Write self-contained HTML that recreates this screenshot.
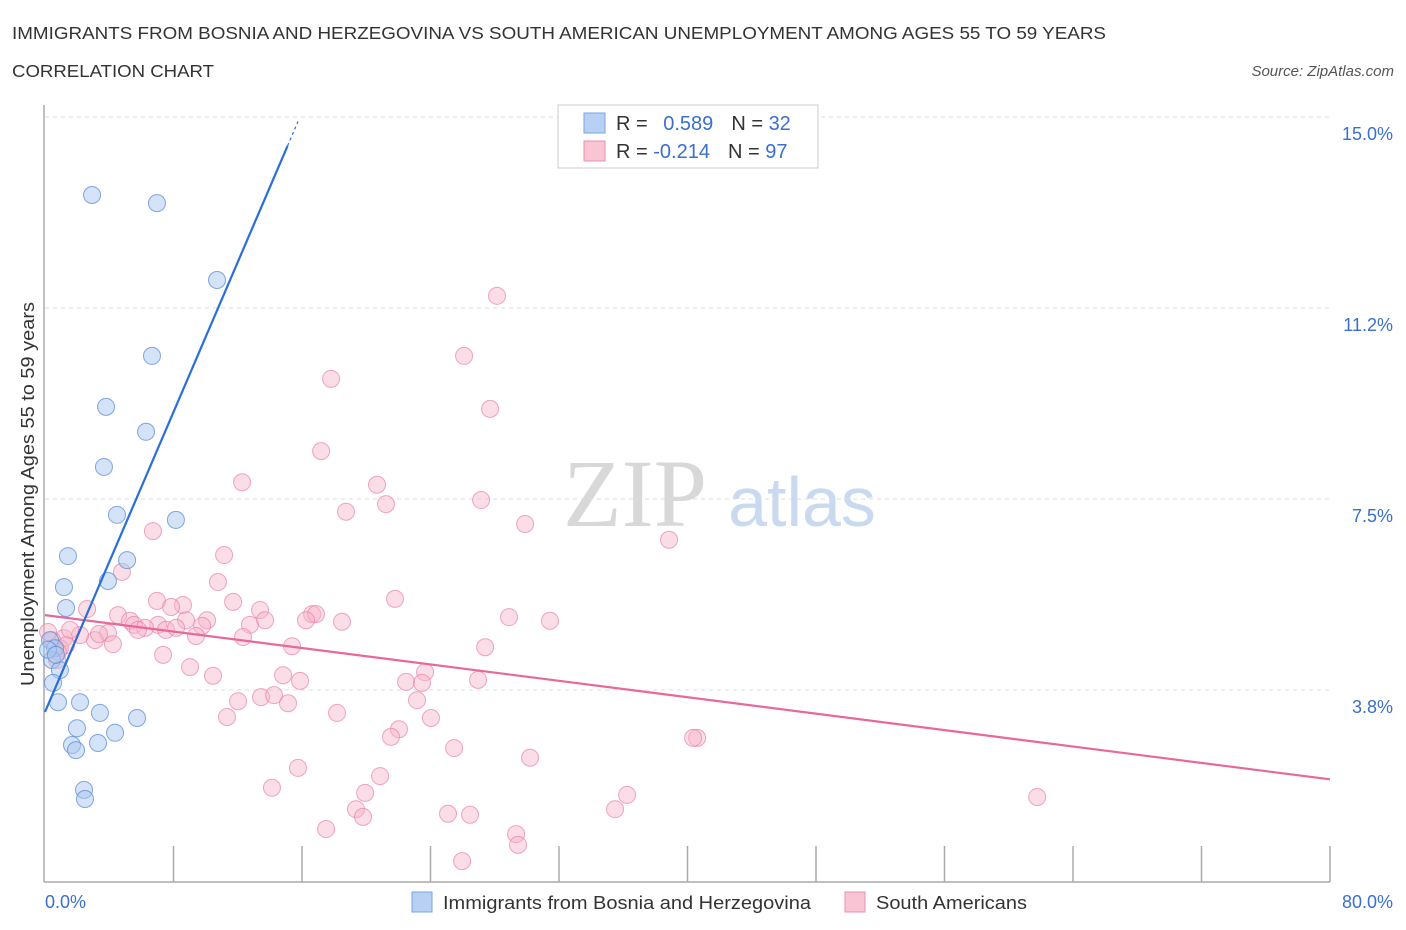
<!DOCTYPE html>
<html><head><meta charset="utf-8"><style>
body{margin:0;background:#fff;width:1406px;height:930px;overflow:hidden;font-family:"Liberation Sans",sans-serif}
svg{position:absolute;left:0;top:0}
</style></head><body>
<svg id="chart" width="1406" height="930">
<text x="12" y="39" font-size="17.5" fill="#333" textLength="1094" lengthAdjust="spacingAndGlyphs">IMMIGRANTS FROM BOSNIA AND HERZEGOVINA VS SOUTH AMERICAN UNEMPLOYMENT AMONG AGES 55 TO 59 YEARS</text>
<text x="12" y="77" font-size="17.5" fill="#333" textLength="202" lengthAdjust="spacingAndGlyphs">CORRELATION CHART</text>
<text x="1394" y="76" font-size="15" font-style="italic" fill="#555" text-anchor="end">Source: ZipAtlas.com</text>
<g>
<text x="635" y="526" font-size="96" font-family="Liberation Serif,serif" fill="#d8d8d8" text-anchor="middle">ZIP</text>
<text x="802" y="526" font-size="70" fill="#c9daf0" text-anchor="middle">atlas</text>
</g>
<g id="grid"></g>
<g id="axes"></g>
<g id="pts"></g>
<g id="lines"></g>
<text transform="translate(34,494) rotate(-90)" font-size="18.5" fill="#333" text-anchor="middle" textLength="384" lengthAdjust="spacingAndGlyphs">Unemployment Among Ages 55 to 59 years</text>
<g>
<rect x="558" y="105" width="260" height="63" fill="#fff" stroke="#ccc"/>
<rect x="584" y="113" width="21" height="20" fill="#b7d0f3" stroke="#7aa6e0"/>
<rect x="584" y="141" width="21" height="20" fill="#f9c4d4" stroke="#ec8fae"/>
<text x="616" y="130" font-size="20" fill="#333">R = <tspan fill="#3a6fd0" dx="10">0.589</tspan><tspan dx="18" fill="#333">N = </tspan><tspan fill="#3a6fd0">32</tspan></text>
<text x="616" y="158" font-size="20" fill="#333">R = <tspan fill="#3a6fd0">-0.214</tspan><tspan dx="18" fill="#333">N = </tspan><tspan fill="#3a6fd0">97</tspan></text>
</g>
<g>
<rect x="412" y="892" width="20" height="20" fill="#b7d0f3" stroke="#7aa6e0"/>
<text x="443" y="909" font-size="18.5" fill="#333" textLength="368" lengthAdjust="spacingAndGlyphs">Immigrants from Bosnia and Herzegovina</text>
<rect x="845" y="892" width="20" height="20" fill="#f9c4d4" stroke="#ec8fae"/>
<text x="876" y="909" font-size="18.5" fill="#333" textLength="151" lengthAdjust="spacingAndGlyphs">South Americans</text>
</g>
</svg>
<script>
const yTicks=[3.75,7.5,11.25,15];
const yTickLabels=["3.8%","7.5%","11.2%","15.0%"];
const xTickLabels=["0.0%","80.0%"];
const blueX=[2.93,6.97,10.71,6.66,3.80,6.29,3.67,4.48,8.15,1.43,5.11,1.18,3.92,1.31,0.31,0.62,0.44,0.93,0.50,0.81,2.18,3.42,5.73,1.99,4.36,1.68,1.93,3.30,2.43,2.49,0.19,0.68];
const blueY=[13.47,13.31,11.80,10.31,9.31,8.82,8.13,7.19,7.09,6.38,6.30,5.77,5.89,5.36,4.73,4.57,4.34,4.14,3.89,3.51,3.51,3.30,3.20,3.00,2.91,2.67,2.57,2.71,1.79,1.61,4.54,4.44];
const pinkX=[28.14,26.09,17.81,27.71,17.19,12.27,20.67,27.15,21.23,18.74,29.89,6.72,38.85,11.15,4.79,10.77,21.79,11.71,6.97,2.62,8.59,7.85,13.39,16.63,16.87,4.55,28.89,31.44,18.49,10.09,13.70,8.78,5.29,7.04,5.54,6.23,9.78,7.53,8.16,12.76,16.25,5.79,3.92,4.23,3.11,3.36,2.18,1.18,1.56,9.40,12.33,15.38,27.40,7.35,9.03,23.66,14.82,10.46,26.96,15.88,22.48,23.47,13.45,12.02,15.13,23.16,14.26,18.18,24.03,11.33,22.04,21.54,40.60,40.35,25.47,30.20,15.75,20.86,14.13,19.93,36.24,61.77,19.36,35.49,19.80,25.09,26.46,17.50,29.33,29.45,25.97,0.93,0.44,0.75,1.31,0.19,0.81];
const pinkY=[11.49,10.31,9.86,9.27,8.44,7.83,7.78,7.48,7.40,7.25,7.01,6.87,6.70,6.40,6.07,5.87,5.54,5.48,5.50,5.34,5.42,5.38,5.32,5.24,5.24,5.22,5.18,5.11,5.09,5.12,5.12,5.12,5.11,5.03,5.03,4.97,5.01,4.93,4.97,5.03,5.12,4.93,4.87,4.65,4.73,4.85,4.83,4.77,4.93,4.81,4.79,4.61,4.59,4.44,4.20,4.10,4.04,4.03,3.95,3.93,3.91,3.89,3.61,3.53,3.49,3.55,3.65,3.30,3.20,3.22,2.98,2.83,2.81,2.81,2.61,2.42,2.22,2.06,1.83,1.73,1.69,1.65,1.41,1.41,1.26,1.32,1.30,1.02,0.92,0.71,0.39,4.57,4.73,4.34,4.63,4.89,4.50];
const blueLine=[3.32,0.736,15.1,15.75];
const pinkLine=[5.22,-0.0403,0,80];
const NS='http://www.w3.org/2000/svg';
const X=v=>45+v*1285/80, Y=v=>881-v*50.93;
function mk(tag,attrs,parent){const e=document.createElementNS(NS,tag);for(const k in attrs)e.setAttribute(k,attrs[k]);document.getElementById(parent).appendChild(e);return e;}
yTicks.forEach((t,i)=>{
  const g=mk('line',{x1:45,x2:1330,y1:Y(t),y2:Y(t),stroke:'#ddd','stroke-dasharray':'4,4'},'grid');
  
  
  const l=mk('text',{x:1393,y:Y(t)+23,'font-size':18,fill:'#3a6fd0','text-anchor':'end'},'axes');
  l.textContent=yTickLabels[i];
  
  
});
const ya=mk('line',{x1:44,x2:44,y1:105,y2:882,stroke:'#aaa','stroke-width':1.5},'axes');


const xa=mk('line',{x1:44,x2:1330,y1:882,y2:882,stroke:'#aaa','stroke-width':1.5},'axes');


for(let i=1;i<=10;i++){
  const t=mk('line',{x1:X(i*8),x2:X(i*8),y1:846,y2:882,stroke:'#aaa','stroke-width':1.5},'axes');
  
  
}
const xl0=mk('text',{x:45,y:908,'font-size':18,fill:'#3a6fd0'},'axes');xl0.textContent=xTickLabels[0];


const xl1=mk('text',{x:1393,y:908,'font-size':18,fill:'#3a6fd0','text-anchor':'end'},'axes');xl1.textContent=xTickLabels[1];


pinkX.forEach((x,i)=>{
  const c=mk('circle',{cx:X(x),cy:Y(pinkY[i]),r:8.5,fill:'rgba(247,180,202,0.45)',stroke:'rgba(234,130,165,0.7)','stroke-width':1},'pts');
  
  
});
blueX.forEach((x,i)=>{
  const c=mk('circle',{cx:X(x),cy:Y(blueY[i]),r:8.5,fill:'rgba(170,200,240,0.5)',stroke:'rgba(90,140,215,0.75)','stroke-width':1},'pts');
  
  
});
const pl=mk('line',{x1:X(pinkLine[2]),y1:Y(pinkLine[0]+pinkLine[1]*pinkLine[2]),x2:X(pinkLine[3]),y2:Y(pinkLine[0]+pinkLine[1]*pinkLine[3]),stroke:'#e8689a','stroke-width':2.2},'lines');


const bl=mk('line',{x1:X(0),y1:Y(blueLine[0]),x2:X(blueLine[2]),y2:Y(blueLine[0]+blueLine[1]*blueLine[2]),stroke:'#2a6fd6','stroke-width':2.2},'lines');


const bd=mk('line',{x1:X(blueLine[2]),y1:Y(blueLine[0]+blueLine[1]*blueLine[2]),x2:X(blueLine[3]),y2:Y(blueLine[0]+blueLine[1]*blueLine[3]),stroke:'#2a6fd6','stroke-width':1.2,'stroke-dasharray':'3,3'},'lines');


</script>
</body></html>
